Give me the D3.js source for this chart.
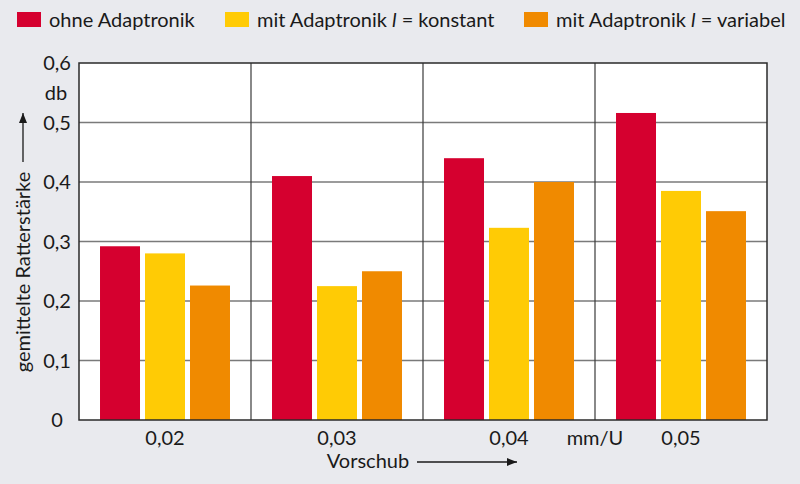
<!DOCTYPE html>
<html>
<head>
<meta charset="utf-8">
<script src="https://cdn.jsdelivr.net/npm/d3@7"></script>
<style>
  html, body { margin: 0; padding: 0; background: #e9eaee; }
  svg { display: block; }
  text { font-family: Lato, "Open Sans", sans-serif; fill: #1a1a1a; }
</style>
</head>
<body>
<svg id="chart" width="800" height="484"></svg>
<script>
const categories = ["0,02", "0,03", "0,04", "0,05"];
const seriesNames = ["ohne Adaptronik", "mit Adaptronik l = konstant", "mit Adaptronik l = variabel"];
const ohne = [0.292, 0.410, 0.440, 0.516];
const konstant = [0.280, 0.225, 0.323, 0.385];
const variabel = [0.226, 0.250, 0.400, 0.351];
const yTicks = [0, 0.1, 0.2, 0.3, 0.4, 0.5, 0.6];
const yTickLabels = ["0", "0,1", "0,2", "0,3", "0,4", "0,5", "0,6"];
const colors = ["#d5002f", "#ffcb05", "#f08a00"];

const svg = d3.select("#chart");
const m = { left: 79, right: 767, top: 63, bottom: 420 };
const FS = 20;

const x = d3.scaleBand().domain(categories).range([m.left, m.right]).paddingInner(0).paddingOuter(0);
const xs = d3.scaleBand().domain([0, 1, 2]).range([0, x.bandwidth()]).paddingInner(1 / 9).paddingOuter(0.467);
const y = d3.scaleLinear().domain([0, 0.6]).range([m.bottom, m.top]);

svg.append("rect").attr("x", m.left).attr("y", m.top)
  .attr("width", m.right - m.left).attr("height", m.bottom - m.top)
  .attr("fill", "#ffffff");

svg.append("g").selectAll("line").data(yTicks.filter(d => d > 0 && d < 0.6)).join("line")
  .attr("x1", m.left).attr("x2", m.right)
  .attr("y1", d => y(d)).attr("y2", d => y(d))
  .attr("stroke", "#7a7a7a").attr("stroke-width", 1.5);

svg.append("g").selectAll("line").data(categories.slice(1)).join("line")
  .attr("x1", d => x(d)).attr("x2", d => x(d))
  .attr("y1", m.top).attr("y2", m.bottom)
  .attr("stroke", "#3a3a3a").attr("stroke-width", 1.2);

const seriesData = [ohne, konstant, variabel];
seriesData.forEach((vals, si) => {
  svg.append("g").selectAll("rect").data(vals).join("rect")
    .attr("x", (d, i) => x(categories[i]) + xs(si))
    .attr("width", xs.bandwidth())
    .attr("y", d => y(d))
    .attr("height", d => y(0) - y(d))
    .attr("fill", colors[si]);
});

svg.append("rect").attr("x", m.left).attr("y", m.top)
  .attr("width", m.right - m.left).attr("height", m.bottom - m.top)
  .attr("fill", "none").attr("stroke", "#2a2a2a").attr("stroke-width", 1.5);

svg.append("g").selectAll("text").data(yTicks).join("text")
  .attr("x", 57).attr("y", d => y(d))
  .attr("dy", "0.35em").attr("text-anchor", "middle")
  .attr("font-size", FS)
  .text((d, i) => yTickLabels[i]);
svg.append("text").attr("x", 56).attr("y", 93).attr("dy", "0.35em")
  .attr("text-anchor", "middle").attr("font-size", FS).text("db");

svg.append("g").selectAll("text").data(categories).join("text")
  .attr("x", d => x(d) + x.bandwidth() / 2).attr("y", 445)
  .attr("text-anchor", "middle").attr("font-size", FS)
  .text(d => d);
svg.append("text").attr("x", x(categories[3])).attr("y", 445)
  .attr("text-anchor", "middle").attr("font-size", FS).text("mm/U");

const defs = svg.append("defs");
defs.append("marker").attr("id", "arr").attr("viewBox", "0 0 10 10")
  .attr("refX", 10).attr("refY", 5).attr("markerWidth", 10).attr("markerHeight", 10)
  .attr("markerUnits", "userSpaceOnUse").attr("orient", "auto")
  .append("path").attr("d", "M0,1 L10,5 L0,9 Z").attr("fill", "#1a1a1a");

svg.append("text").attr("x", 368).attr("y", 468).attr("text-anchor", "middle")
  .attr("font-size", FS).text("Vorschub");
svg.append("line").attr("x1", 417).attr("x2", 517).attr("y1", 462).attr("y2", 462)
  .attr("stroke", "#1a1a1a").attr("stroke-width", 1.3).attr("marker-end", "url(#arr)");

svg.append("text").attr("transform", "translate(30,272) rotate(-90)")
  .attr("text-anchor", "middle").attr("font-size", FS).text("gemittelte Ratterstärke");
svg.append("line").attr("x1", 23).attr("x2", 23).attr("y1", 162).attr("y2", 113)
  .attr("stroke", "#1a1a1a").attr("stroke-width", 1.3).attr("marker-end", "url(#arr)");

const legendX = [17, 225, 524];
const lg = svg.append("g");
seriesNames.forEach((name, i) => {
  lg.append("rect").attr("x", legendX[i]).attr("y", 12).attr("width", 24).attr("height", 15)
    .attr("fill", colors[i]);
  const t = lg.append("text").attr("x", legendX[i] + 32).attr("y", 27).attr("font-size", FS);
  if (i === 0) {
    t.text(name);
  } else {
    const parts = name.split(" l ");
    t.append("tspan").text(parts[0] + " ");
    t.append("tspan").attr("font-style", "italic").text("l");
    t.append("tspan").text(" " + parts[1]);
  }
});
</script>
</body>
</html>
